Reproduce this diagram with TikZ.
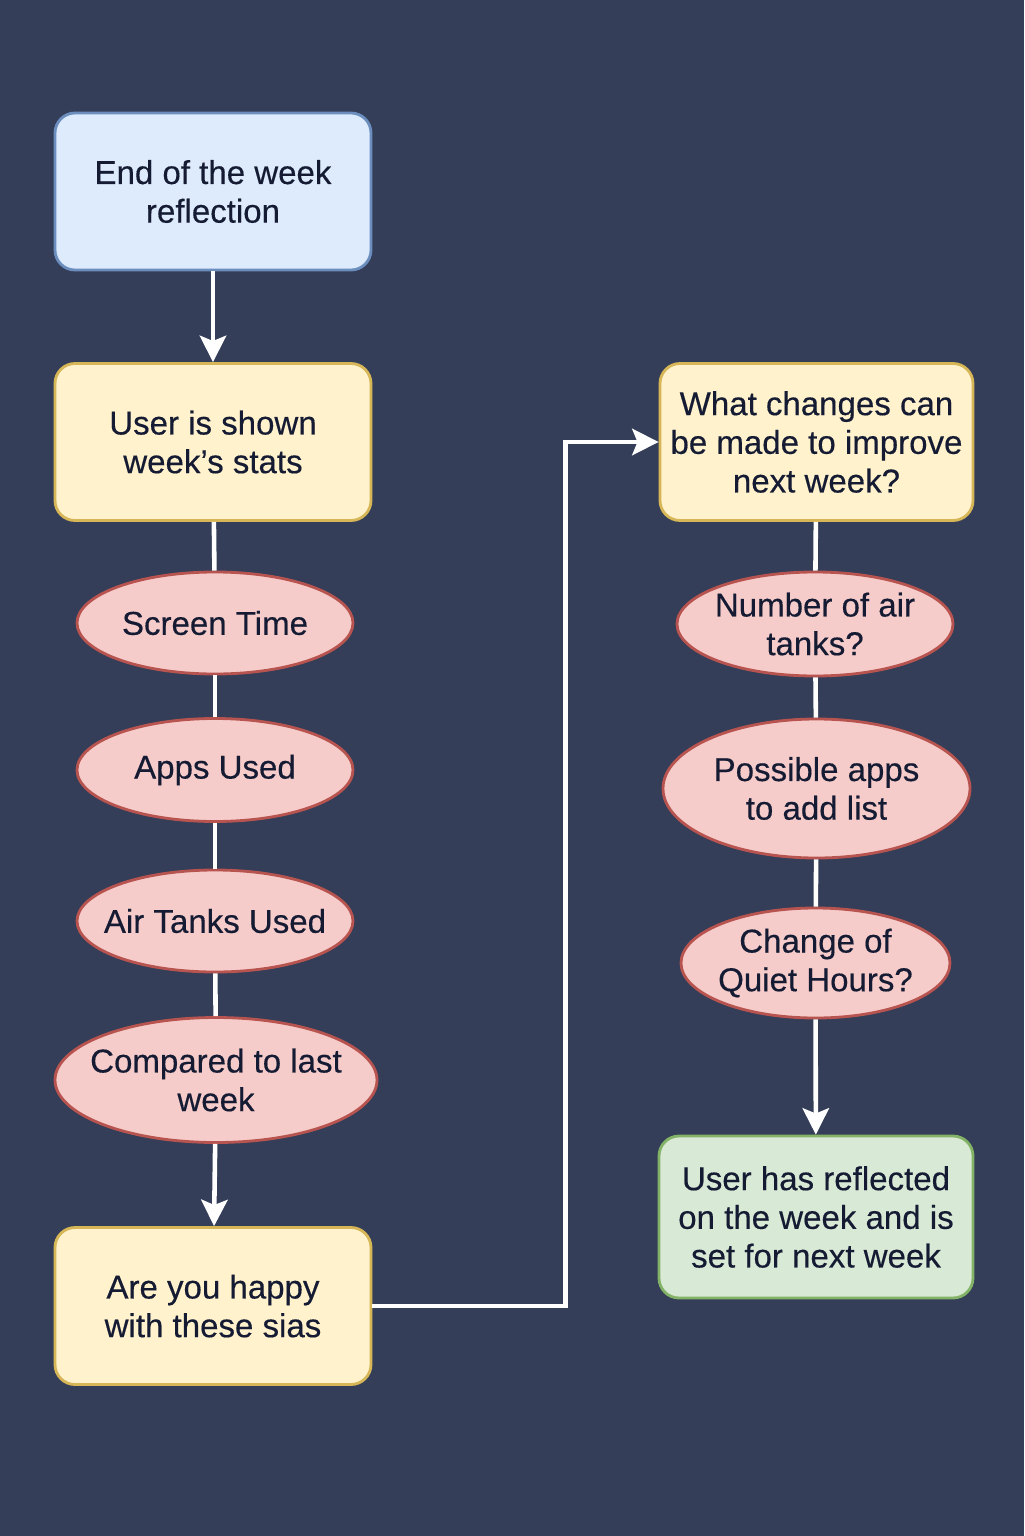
\documentclass[tikz,border=0pt]{standalone}
\usepackage{fontspec}
\setmainfont{Liberation Sans}[FakeBold=0.35]
\usetikzlibrary{shapes.geometric,arrows.meta,positioning}

% colours of the chart
\definecolor{bgnavy}{HTML}{343E58}
\definecolor{inkblue}{HTML}{141B33}
\definecolor{startfill}{HTML}{DDEBFC}
\definecolor{startline}{HTML}{6C8EBF}
\definecolor{askfill}{HTML}{FFF2CC}
\definecolor{askline}{HTML}{D6B656}
\definecolor{ovalfill}{HTML}{F6CCCA}
\definecolor{ovalline}{HTML}{B85450}
\definecolor{donefill}{HTML}{D8E9D5}
\definecolor{doneline}{HTML}{82B366}

\begin{document}
\begin{tikzpicture}[
  box/.style={draw, rounded corners=0.2cm, line width=0.8pt, align=center,
    text=inkblue, font=\fontsize{9.4}{11}\selectfont,
    minimum width=3.16cm, minimum height=1.57cm, inner sep=0pt},
  oval/.style={ellipse, draw=ovalline, fill=ovalfill, line width=0.8pt,
    align=center, text=inkblue, font=\fontsize{9.4}{11}\selectfont, inner sep=-0.3cm},
  link/.style={draw=white, line width=1.3pt},
  flow/.style={link, -{Stealth[width=7.5pt,length=7.5pt,inset=1.5pt]}}
]
  % page and background
  \fill[bgnavy] (0,0) rectangle (10.24,-15.36);
  \useasboundingbox (0,0) rectangle (10.24,-15.36);

  % left column
  \node[box, fill=startfill, draw=startline] (start) at (2.13,-1.915) {End of the week\\reflection};
  \node[box, fill=askfill, draw=askline] (stats) at (2.13,-4.42) {User is shown\\week’s stats};
  \node[oval, minimum width=2.76cm, minimum height=1.02cm] (screen) at (2.15,-6.23) {Screen Time};
  \node[oval, minimum width=2.76cm, minimum height=1.03cm] (apps) at (2.15,-7.70) {Apps Used};
  \node[oval, minimum width=2.76cm, minimum height=1.02cm] (tanks) at (2.15,-9.21) {Air Tanks Used};
  \node[oval, minimum width=3.22cm, minimum height=1.25cm] (compare) at (2.16,-10.80) {Compared to last\\week};
  \node[box, fill=askfill, draw=askline] (happy) at (2.13,-13.06) {Are you happy\\with these sias};

  % right column
  \node[box, fill=askfill, draw=askline, minimum width=3.13cm] (changes) at (8.165,-4.42) {What changes can\\be made to improve\\next week?};
  \node[oval, minimum width=2.76cm, minimum height=1.04cm] (airnum) at (8.15,-6.24) {Number of air\\tanks?};
  \node[oval, minimum width=3.07cm, minimum height=1.39cm] (addlist) at (8.165,-7.885) {Possible apps\\to add list};
  \node[oval, minimum width=2.69cm, minimum height=1.10cm] (quiet) at (8.155,-9.63) {Change of\\Quiet Hours?};
  \node[box, fill=donefill, draw=doneline, minimum width=3.14cm, minimum height=1.62cm] (done) at (8.16,-12.17) {User has reflected\\on the week and is\\set for next week};

  % connectors, left
  \draw[flow] (start) -- (stats);
  \draw[link] (stats) -- (screen);
  \draw[link] (screen) -- (apps);
  \draw[link] (apps) -- (tanks);
  \draw[link] (tanks) -- (compare);
  \draw[flow] (compare) -- (happy);

  % across to the right column
  \draw[flow] (happy.east) -- ++(1.93,0) |- (changes.west);

  % connectors, right
  \draw[link] (changes) -- (airnum);
  \draw[link] (airnum) -- (addlist);
  \draw[link] (addlist) -- (quiet);
  \draw[flow] (quiet) -- (done);
\end{tikzpicture}
\end{document}
